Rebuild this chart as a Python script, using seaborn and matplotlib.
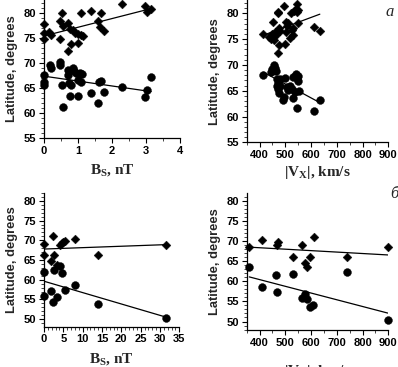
import numpy as np
import pandas as pd
import matplotlib
matplotlib.use("Agg")
import matplotlib.pyplot as plt
from matplotlib.ticker import MultipleLocator
import seaborn as sns

# --- data (latitude vs Bs / |Vx|) ---
# panel a, left: Bs (nT) vs latitude
bs_a_dia = [0, 0, 0, 0.16, 0.2, 0.47, 0.47, 0.54, 0.57, 0.72, 0.72, 0.77, 0.8, 0.85,
            0.92, 0.99, 1.01, 1.09, 1.09, 1.16, 1.38, 1.58, 1.64, 1.67, 1.77, 2.3,
            2.96, 3.03, 3.15]
lat_a_dia = [77.7, 75.9, 74.7, 76.1, 75.6, 78.3, 74.7, 79.9, 77.4, 78.0, 72.4, 76.7, 73.7, 76.5,
             75.9, 74.0, 75.7, 80.0, 75.5, 75.3, 80.3, 78.4, 77.1, 80.0, 76.4, 81.7,
             81.3, 80.2, 80.7]
bs_a_cir = [0, 0, 0, 0.18, 0.2, 0.47, 0.47, 0.54, 0.57, 0.72, 0.72, 0.74, 0.75, 0.8, 0.85,
            0.89, 0.95, 0.99, 1.0, 1.06, 1.09, 1.11, 1.38, 1.58, 1.61, 1.67, 1.77, 2.28,
            2.96, 3.03, 3.15]
lat_a_cir = [67.5, 66.2, 65.5, 69.5, 68.9, 70.1, 69.5, 65.5, 61.2, 68.5, 67.5, 65.9, 63.4, 65.5, 68.9,
             68.3, 68.0, 66.5, 63.4, 67.9, 66.2, 67.8, 63.9, 61.9, 66.2, 66.3, 64.2, 65.2,
             63.2, 64.5, 67.1]

# panel a, right: |Vx| (km/s) vs latitude
vx_a_dia = [415, 437, 445, 450, 452, 455, 457, 460, 465, 470, 472, 470, 474, 477, 478,
            496, 500, 503, 503, 505, 512, 520, 522, 525, 528, 528, 535, 540, 544, 545,
            548, 550, 611, 634]
lat_v_dia = [76.1, 75.4, 75.0, 76.0, 78.4, 75.6, 74.8, 76.4, 75.8, 80.3, 80.0, 72.3, 73.8, 77.1, 76.6,
             81.4, 74.0, 76.4, 78.3, 77.6, 78.2, 75.2, 80.0, 76.8, 75.8, 77.1, 80.5, 80.8, 81.8, 80.3,
             78.2, 80.7, 77.4, 76.6]
vx_a_cir = [415, 445, 450, 455, 460, 462, 466, 468, 470, 472, 475, 478, 480, 490, 495,
            499, 505, 512, 520, 525, 528, 530, 537, 540, 545, 548, 550, 544, 552, 611, 634]
lat_v_cir = [68.0, 68.6, 69.3, 70.0, 69.5, 68.8, 67.2, 66.0, 65.3, 66.5, 64.5, 66.0, 67.3, 63.2, 63.8,
             67.4, 65.8, 65.2, 66.0, 65.4, 67.6, 63.6, 64.8, 68.2, 67.4, 66.8, 67.9, 61.7, 65.0, 61.0, 63.3]

# panel b, left
bs_b_dia = [0, 0, 1.7, 2.4, 2.7, 3.4, 4.1, 4.6, 5.0, 5.4, 8.0, 13.9, 31.6]
lat_b_dia = [69.0, 66.4, 64.7, 71.0, 66.4, 63.7, 68.8, 69.2, 69.6, 69.8, 70.4, 66.4, 68.8]
bs_b_cir = [0, 0, 1.8, 2.4, 2.7, 3.4, 4.1, 4.6, 5.4, 8.0, 13.9, 31.6]
lat_b_cir = [62.0, 56.0, 57.1, 54.3, 62.4, 55.6, 63.6, 61.8, 57.4, 58.7, 53.8, 50.4]

# panel b, right
vx_b_dia = [360, 408, 466, 472, 530, 565, 610, 578, 584, 597, 739, 898]
lat_w_dia = [68.6, 70.2, 69.0, 69.6, 66.1, 69.0, 71.0, 64.6, 63.5, 66.1, 66.1, 68.6]
vx_b_cir = [360, 408, 463, 468, 530, 565, 578, 584, 597, 608, 739, 898]
lat_w_cir = [63.6, 58.6, 61.6, 57.3, 61.9, 55.9, 56.8, 55.6, 53.6, 54.1, 62.2, 50.3]

W, H = 398, 367
fig = plt.figure(figsize=(W / 100, H / 100), dpi=100)
sns.set_style("white")
plt.rcParams["font.family"] = ["Liberation Sans", "DejaVu Sans"]

def px_axes(x0, y_top, x1, y_bot):
    return fig.add_axes([x0 / W, 1 - y_bot / H, (x1 - x0) / W, (y_bot - y_top) / H])

def panel(ax, xd, yd, xc, yc, xlim, ylim, xmaj, xmin):
    dia = pd.DataFrame({"x": xd, "y": yd})
    cir = pd.DataFrame({"x": xc, "y": yc})
    for df, m, s in [(dia, "D", 20), (cir, "o", 32)]:
        sns.regplot(data=df, x="x", y="y", ax=ax, scatter=False, ci=None, truncate=True,
                    color="black", line_kws={"lw": 0.9})
        sns.scatterplot(data=df, x="x", y="y", ax=ax, marker=m, s=s, color="black",
                        edgecolor="black", linewidth=0.3, zorder=3, clip_on=False)
    ax.set_xlim(*xlim)
    ax.set_ylim(*ylim)
    ax.xaxis.set_major_locator(MultipleLocator(xmaj))
    ax.xaxis.set_minor_locator(MultipleLocator(xmin))
    ax.yaxis.set_major_locator(MultipleLocator(5))
    ax.yaxis.set_minor_locator(MultipleLocator(1))
    sns.despine(ax=ax)
    for s in ["left", "bottom"]:
        ax.spines[s].set_linewidth(0.9)
        ax.spines[s].set_color("black")
    ax.tick_params(which="major", direction="out", length=3.5, width=0.8, labelsize=8,
                   pad=2, left=True, bottom=True, colors="black")
    ax.tick_params(which="minor", direction="out", length=2, width=0.6, left=True, bottom=True)
    for lab in ax.get_xticklabels() + ax.get_yticklabels():
        lab.set_fontweight("bold")
    ax.set_ylabel("Latitude, degrees", fontsize=9.3, fontweight="bold", labelpad=4)
    ax.set_xlabel("")

serif = dict(family="Liberation Serif", fontweight="bold", fontsize=11)

ax1 = px_axes(44, 0, 180, 138)
panel(ax1, bs_a_dia, lat_a_dia, bs_a_cir, lat_a_cir, (0, 4), (55, 82.5), 1, 0.5)
ax1.set_xlabel("B$_\\mathregular{S}$, nT", **serif, labelpad=5)

ax2 = px_axes(246.7, 0, 388.3, 142.3)
panel(ax2, vx_a_dia, lat_v_dia, vx_a_cir, lat_v_cir, (350, 900), (55, 82.6), 100, 50)
ax2.set_xlabel("|V$_\\mathregular{X}$|, km/s", **serif, labelpad=3)

ax3 = px_axes(44, 193, 179.3, 326.7)
panel(ax3, bs_b_dia, lat_b_dia, bs_b_cir, lat_b_cir, (0, 35), (48.1, 82), 5, 1)
ax3.set_xlabel("B$_\\mathregular{S}$, nT", **serif, labelpad=5)

ax4 = px_axes(246.7, 193.3, 388.3, 330)
panel(ax4, vx_b_dia, lat_w_dia, vx_b_cir, lat_w_cir, (350, 900), (47.9, 81.8), 100, 50)
# in the reference this label sits at the bottom edge and is mostly cut off
ax4.set_xlabel("|V$_\\mathregular{X}$|, km/s", **serif, labelpad=11)

fig.text(390 / W, 1 - 12 / H, "a", family="Liberation Serif", style="italic", fontsize=12,
         ha="center", va="center")
fig.text(394 / W, 1 - 194 / H, "б", family="Liberation Serif", style="italic", fontsize=12,
         ha="center", va="center")

fig.savefig("out.png", dpi=100)
